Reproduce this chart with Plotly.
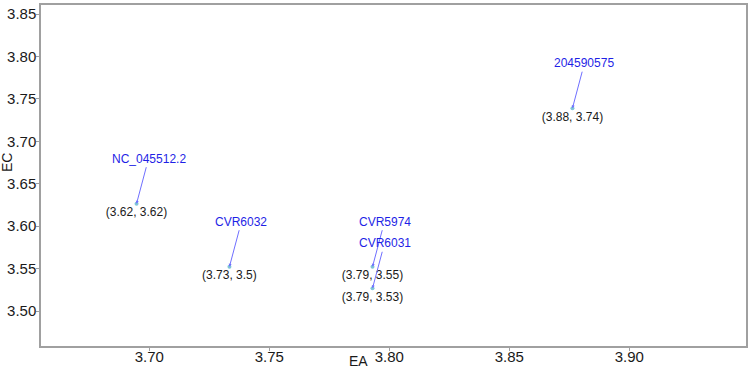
import plotly.graph_objects as go

# Data
names = ["NC_045512.2", "CVR6032", "CVR5974", "CVR6031", "204590575"]
ea = [3.6947, 3.7334, 3.7930, 3.7930, 3.8763]
ec = [3.6265, 3.5522, 3.5522, 3.5268, 3.7390]
point_labels = ["(3.62, 3.62)", "(3.73, 3.5)", "(3.79, 3.55)", "(3.79, 3.53)", "(3.88, 3.74)"]

x_ticks = [3.70, 3.75, 3.80, 3.85, 3.90]
x_tick_text = ["3.70", "3.75", "3.80", "3.85", "3.90"]
y_ticks = [3.50, 3.55, 3.60, 3.65, 3.70, 3.75, 3.80, 3.85]
y_tick_text = ["3.50", "3.55", "3.60", "3.65", "3.70", "3.75", "3.80", "3.85"]

FONT = "Arial, Liberation Sans, sans-serif"

fig = go.Figure()
fig.add_trace(go.Scatter(
    x=ea, y=ec, mode="markers+text",
    text=point_labels, textposition="bottom center",
    textfont=dict(family=FONT, size=12, color="#1a1a1a"),
    marker=dict(size=4, color="#7fc4d8"),
    hoverinfo="skip", showlegend=False,
))

for n, x, y in zip(names, ea, ec):
    fig.add_annotation(
        x=x, y=y, xref="x", yref="y", text=n,
        showarrow=True, ax=12, ay=-45,
        arrowhead=2, arrowsize=0.6, arrowwidth=1,
        arrowcolor="#6f6fff",
        font=dict(family=FONT, size=12, color="#1f1fe6"),
    )

axis_common = dict(
    showgrid=False, zeroline=False, showline=True, mirror=True,
    linecolor="#a0a0a0", linewidth=1.5,
    ticks="outside", ticklen=3, tickcolor="#a0a0a0", tickwidth=1,
    tickfont=dict(family=FONT, size=15, color="#1a1a1a"),
    automargin=False,
)

fig.update_xaxes(range=[3.6549, 3.9486], tickvals=x_ticks, ticktext=x_tick_text,
                 ticklabelstandoff=-7, **axis_common)
fig.update_yaxes(range=[3.4588, 3.8606], tickvals=y_ticks, ticktext=y_tick_text,
                 ticklabelstandoff=-3, **axis_common)

# axis titles placed as in reference
fig.add_annotation(text="EA", xref="paper", yref="paper", x=(358 - 41) / 705, y=-(360.5 - 346) / 341,
                   showarrow=False, font=dict(family=FONT, size=14, color="#1a1a1a"),
                   xanchor="center", yanchor="middle", borderpad=0)
fig.add_annotation(text="EC", xref="paper", yref="paper", x=-(41 - 7) / 705, y=(346 - 163) / 341,
                   showarrow=False, textangle=-90, font=dict(family=FONT, size=14, color="#1a1a1a"),
                   xanchor="center", yanchor="middle", borderpad=0)

fig.update_layout(
    width=749, height=368, autosize=False,
    margin=dict(l=41, r=3, t=5, b=22),
    paper_bgcolor="white", plot_bgcolor="white",
    showlegend=False,
)

fig.write_html("out.html", config={"displayModeBar": False},
               post_script="document.body.style.margin='0';document.body.style.overflow='hidden';")
